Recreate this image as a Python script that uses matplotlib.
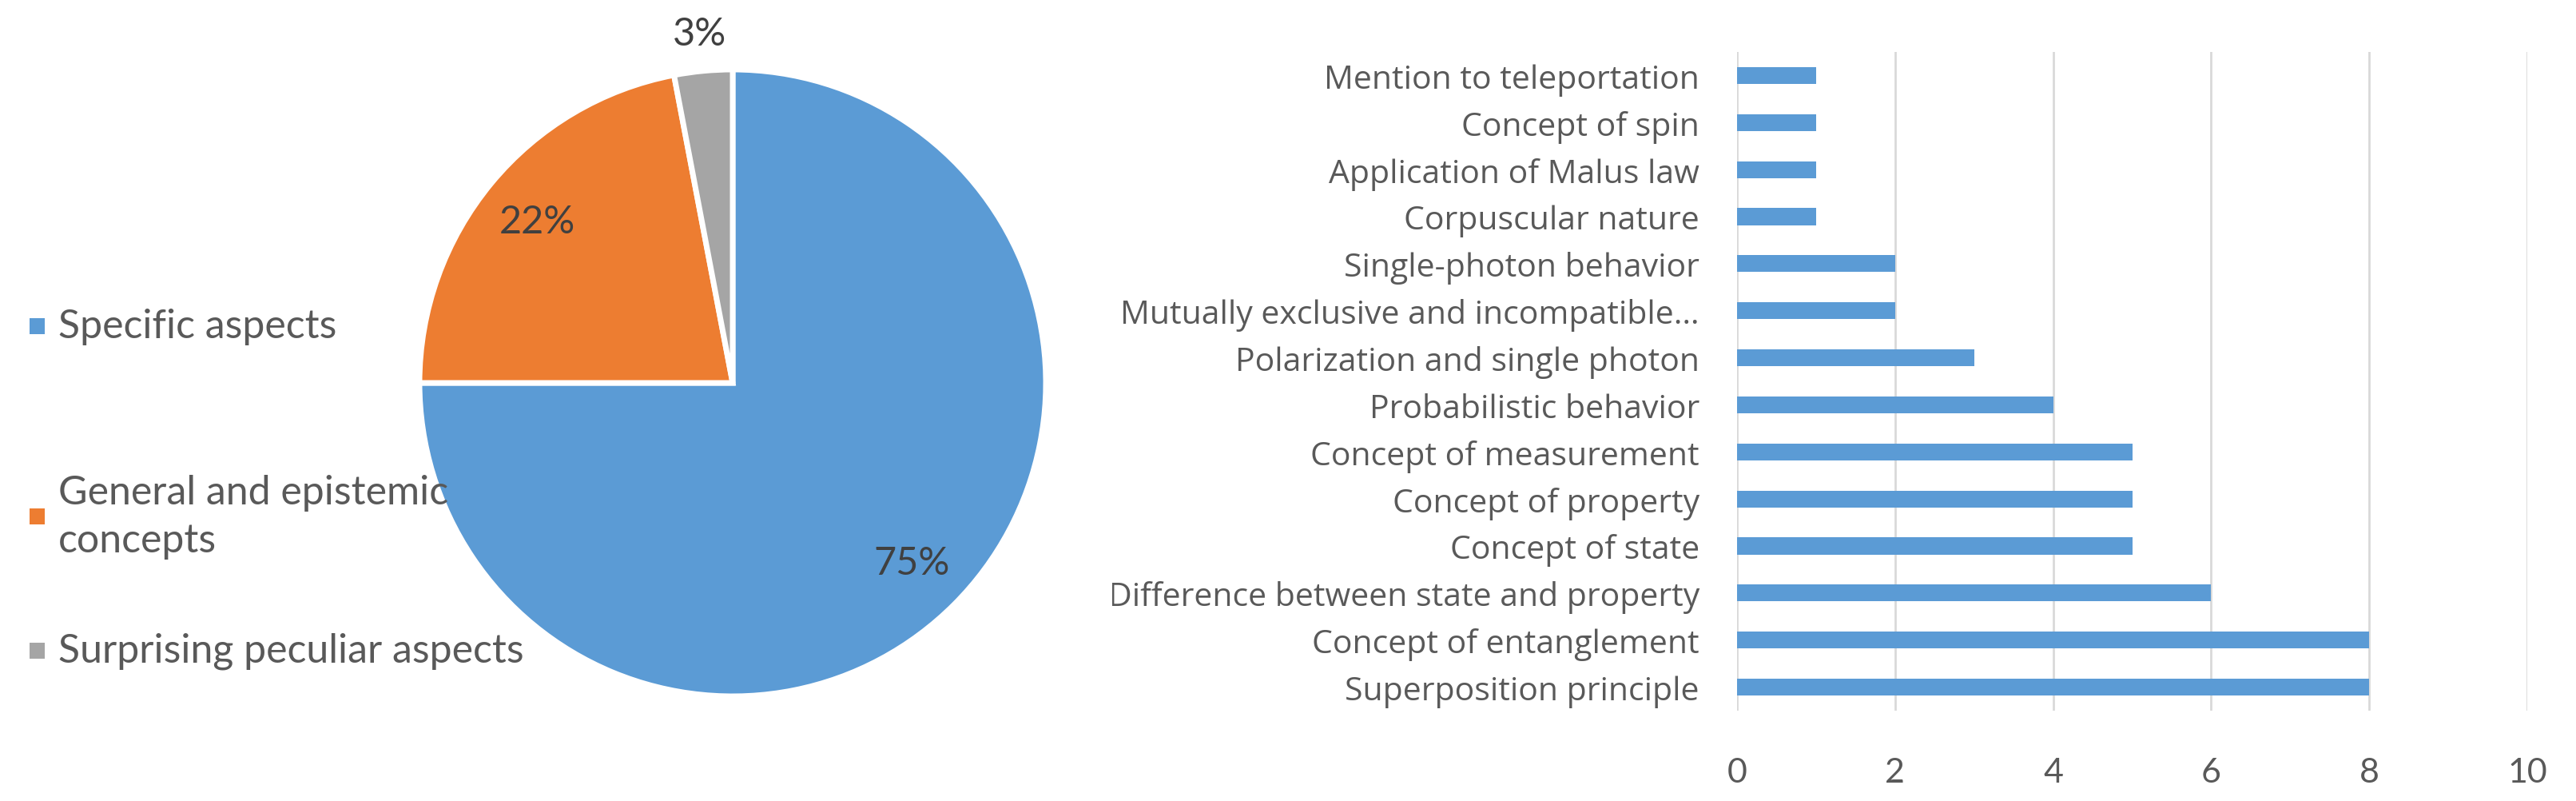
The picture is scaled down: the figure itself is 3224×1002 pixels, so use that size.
import matplotlib
matplotlib.use("Agg")
import matplotlib.pyplot as plt
import numpy as np
from matplotlib.patches import Rectangle
from matplotlib.transforms import Bbox

# ---------------- data ----------------
pie_labels = ["Specific aspects", "General and epistemic\nconcepts", "Surprising peculiar aspects"]
pie_values = [75, 22, 3]
pie_colors = ["#5B9BD5", "#ED7D31", "#A5A5A5"]

bar_categories = [
    "Superposition principle",
    "Concept of entanglement",
    "Difference between state and property",
    "Concept of state",
    "Concept of property",
    "Concept of measurement",
    "Probabilistic behavior",
    "Polarization and single photon",
    "Mutually exclusive and incompatible\u2026",
    "Single-photon behavior",
    "Corpuscular nature",
    "Application of Malus law",
    "Concept of spin",
    "Mention to teleportation",
]
bar_values = [8, 8, 6, 5, 5, 5, 4, 3, 2, 2, 1, 1, 1, 1]
x_ticks = [0, 2, 4, 6, 8, 10]
bar_color = "#5B9BD5"

TEXT = "#595959"
W, H = 3224, 1003

fig = plt.figure(figsize=(W / 100, H / 100), dpi=100)
fig.patch.set_facecolor("white")

# ---------------- pie ----------------
cx, cy, r = 917, 480, 392
axp = fig.add_axes([(cx - r) / W, (H - cy - r) / H, 2 * r / W, 2 * r / H])
wedges, _, autotexts = axp.pie(
    pie_values, colors=pie_colors, startangle=90, counterclock=False,
    radius=1, autopct=lambda p: f"{p:.0f}%", pctdistance=0.81,
    wedgeprops=dict(edgecolor="white", linewidth=5),
    textprops=dict(family="Lato", fontsize=35, color="#404040"),
)
axp.set_xlim(-1, 1)
axp.set_ylim(-1, 1)
axp.set_aspect("auto")
axp.axis("off")
# small slice label goes outside
w = wedges[2]
mid = np.deg2rad((w.theta1 + w.theta2) / 2)
autotexts[2].set_position((1.12 * np.cos(mid), 1.12 * np.sin(mid)))

# legend (manual layout)
leg_y = [409, 647, 815]
for lab, col, y in zip(pie_labels, pie_colors, leg_y):
    fig.patches.append(Rectangle(((37) / W, (H - y - 10) / H), 19 / W, 20 / H,
                                 transform=fig.transFigure, facecolor=col,
                                 edgecolor="none"))
    fig.text(73 / W, (H - y) / H, lab, family="Lato", fontsize=36, color=TEXT,
             ha="left", va="center", linespacing=1.4)

# ---------------- bars ----------------
left, right, top, bottom = 2174, 3163, 66, 890
axb = fig.add_axes([left / W, (H - bottom) / H, (right - left) / W, (bottom - top) / H])
y = np.arange(len(bar_categories))
axb.barh(y, bar_values, height=0.36, color=bar_color, zorder=3)
axb.set_xlim(0, 10)
axb.set_ylim(-0.5, len(bar_categories) - 0.5)
axb.set_xticks(x_ticks)
axb.set_yticks(y)
labels = axb.set_yticklabels(bar_categories, family="Open Sans", fontsize=29.5, color=TEXT)
axb.tick_params(axis="y", length=0, pad=34)
axb.tick_params(axis="x", length=0, pad=42, labelsize=31, labelcolor=TEXT)
for t in axb.get_xticklabels():
    t.set_family("Lato")
axb.grid(axis="x", color="#D9D9D9", linewidth=2, zorder=0)
for s in axb.spines.values():
    s.set_visible(False)

# clip the overflowing label like the original
for t in labels:
    if t.get_text().startswith("Difference"):
        t.set_clip_box(Bbox.from_extents(1392, 0, W, H))
        t.set_clip_on(True)

fig.savefig("out.png", dpi=100, facecolor="white")
